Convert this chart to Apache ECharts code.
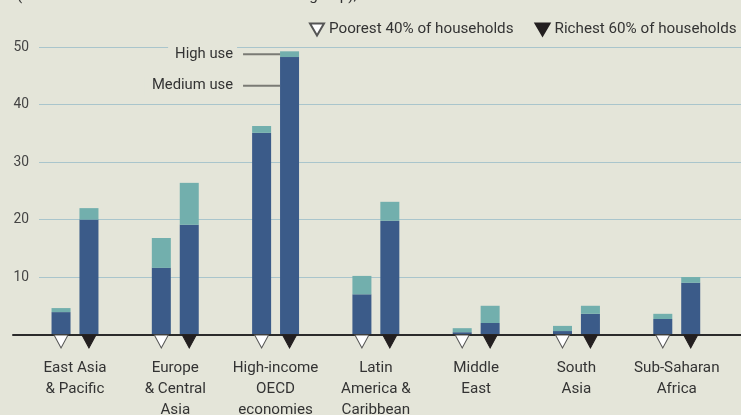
<!DOCTYPE html>
<html>
<head>
<meta charset="utf-8">
<script src="https://cdn.jsdelivr.net/npm/echarts@6/dist/echarts.min.js"></script>
<style>
  html, body { margin: 0; padding: 0; background: #e4e5d9; }
  #chart { width: 741px; height: 415px; }
</style>
</head>
<body>
<div id="chart"></div>
<script>
// Regions (x categories)
const categories = [
  'East Asia\n& Pacific',
  'Europe\n& Central\nAsia',
  'High-income\nOECD\neconomies',
  'Latin\nAmerica &\nCaribbean',
  'Middle\nEast',
  'South\nAsia',
  'Sub-Saharan\nAfrica'
];

// Poorest 40% of households: medium-use and high-use shares (%)
const poorestMedium = [3.9, 11.6, 35.1, 7.0, 0.4, 0.6, 2.7];
const poorestHigh   = [0.7, 5.2, 1.2, 3.2, 0.7, 0.9, 0.9];

// Richest 60% of households: medium-use and high-use shares (%)
const richestMedium = [20.0, 19.1, 48.3, 19.8, 2.0, 3.6, 9.0];
const richestHigh   = [2.0, 7.3, 1.0, 3.3, 3.0, 1.4, 1.0];

// Value axis
const yMin = 0;
const yMax = 50;
const yStep = 10;

const legendNames = ['Poorest 40% of households', 'Richest 60% of households'];

const FONT = "Roboto, 'DejaVu Sans Condensed', sans-serif";
const BG = '#e4e5d9';
const MEDIUM = '#3b5b89';
const HIGH = '#72afad';
const BAR_W = 19;
const BAR_GAP = 0.47;
const TRI = 'path://M0,0L14,0L7,13Z';

const chart = echarts.init(document.getElementById('chart'), null, { renderer: 'canvas' });

const gridBox = { top: 47.3, bottom: 80.5, outerBoundsMode: 'none', containLabel: false };
const baseline = categories.map(() => 0);

const option = {
  backgroundColor: BG,
  animation: false,
  textStyle: { fontFamily: FONT },
  grid: [
    Object.assign({ left: 24.85, right: 14.1 }, gridBox),   // bars
    Object.assign({ left: 39, right: 0 }, gridBox),         // gridlines + value labels
    Object.assign({ left: 13, right: 0 }, gridBox)          // baseline rule
  ],
  xAxis: [
    {
      type: 'category', gridIndex: 0, data: categories,
      axisLine: { show: false }, axisTick: { show: false },
      axisLabel: { interval: 0, fontSize: 15.2, lineHeight: 21, color: '#333', margin: 23, fontFamily: FONT }
    },
    { type: 'value', gridIndex: 1, min: 0, max: 1, show: false },
    {
      type: 'value', gridIndex: 2, min: 0, max: 1, z: 5,
      axisLine: { show: true, lineStyle: { color: '#2b2b2b', width: 2 } },
      axisTick: { show: false }, axisLabel: { show: false }, splitLine: { show: false }
    }
  ],
  yAxis: [
    { type: 'value', gridIndex: 0, min: yMin, max: yMax, show: false },
    {
      type: 'value', gridIndex: 1, min: yMin, max: yMax, interval: yStep,
      axisLine: { show: false }, axisTick: { show: false },
      axisLabel: { showMinLabel: false, fontSize: 13.8, color: '#444', margin: 10, fontFamily: FONT },
      splitLine: { lineStyle: { color: '#a9c5cc', width: 1 } }
    },
    { type: 'value', gridIndex: 2, min: yMin, max: yMax, show: false }
  ],
  legend: {
    left: 309, top: 22, width: 440, padding: 0, itemGap: 21,
    itemWidth: 14, itemHeight: 12, selectedMode: false,
    textStyle: { fontSize: 15.2, color: '#333', fontFamily: FONT },
    data: legendNames.map(n => ({ name: n, icon: 'path://M0,0L14,0L7,12Z' }))
  },
  series: [
    { type: 'bar', name: 'Medium use', stack: 'poorest', data: poorestMedium,
      barWidth: BAR_W, barGap: (BAR_GAP * 100) + '%', itemStyle: { color: MEDIUM } },
    { type: 'bar', name: 'High use', stack: 'poorest', data: poorestHigh,
      barWidth: BAR_W, barGap: (BAR_GAP * 100) + '%', itemStyle: { color: HIGH } },
    { type: 'bar', name: 'Medium use', stack: 'richest', data: richestMedium,
      barWidth: BAR_W, barGap: (BAR_GAP * 100) + '%', itemStyle: { color: MEDIUM } },
    { type: 'bar', name: 'High use', stack: 'richest', data: richestHigh,
      barWidth: BAR_W, barGap: (BAR_GAP * 100) + '%', itemStyle: { color: HIGH } },
    { type: 'scatter', name: legendNames[0], data: baseline, clip: false, z: 6, silent: true,
      symbol: TRI, symbolSize: [14, 13], symbolOffset: [-(BAR_W * (1 + BAR_GAP)) / 2, 7],
      itemStyle: { color: '#ffffff', borderColor: '#555', borderWidth: 1, opacity: 1 } },
    { type: 'scatter', name: legendNames[1], data: baseline, clip: false, z: 6, silent: true,
      symbol: TRI, symbolSize: [14, 13], symbolOffset: [(BAR_W * (1 + BAR_GAP)) / 2, 7],
      itemStyle: { color: '#231f20', borderColor: '#231f20', borderWidth: 1, opacity: 1 } }
  ]
};

chart.setOption(option);

// Callouts for the stacked segments of the High-income richest bar
const idx = 2;
const cx = chart.convertToPixel({ gridIndex: 0 }, [categories[idx], 0])[0];
const barLeft = cx + (BAR_W * BAR_GAP) / 2;
const yHigh = chart.convertToPixel({ gridIndex: 0 }, [categories[idx], richestMedium[idx] + richestHigh[idx] / 2])[1];
const yMed = chart.convertToPixel({ gridIndex: 0 }, [categories[idx], richestMedium[idx] - 5])[1];
const LEADER = 37;

function callout(text, y) {
  return [
    { type: 'line', z: 100,
      shape: { x1: barLeft - LEADER, y1: y, x2: barLeft, y2: y },
      style: { stroke: '#7a7a74', lineWidth: 2 } },
    { type: 'text', z: 100, x: barLeft - LEADER - 6, y: y,
      style: { text: text, fill: '#333', font: '14.8px ' + FONT,
        align: 'right', verticalAlign: 'middle',
        backgroundColor: BG, padding: [2, 4, 2, 7] } }
  ];
}

chart.setOption({
  graphic: [
    { type: 'text', z: 100, x: 17, y: 4,
      style: { text: '(% of households in each income or wealth group),', fill: '#333',
        font: '15.2px ' + FONT, align: 'left', verticalAlign: 'bottom' } }
  ].concat(callout('High use', yHigh), callout('Medium use', yMed))
});
</script>
</body>
</html>
